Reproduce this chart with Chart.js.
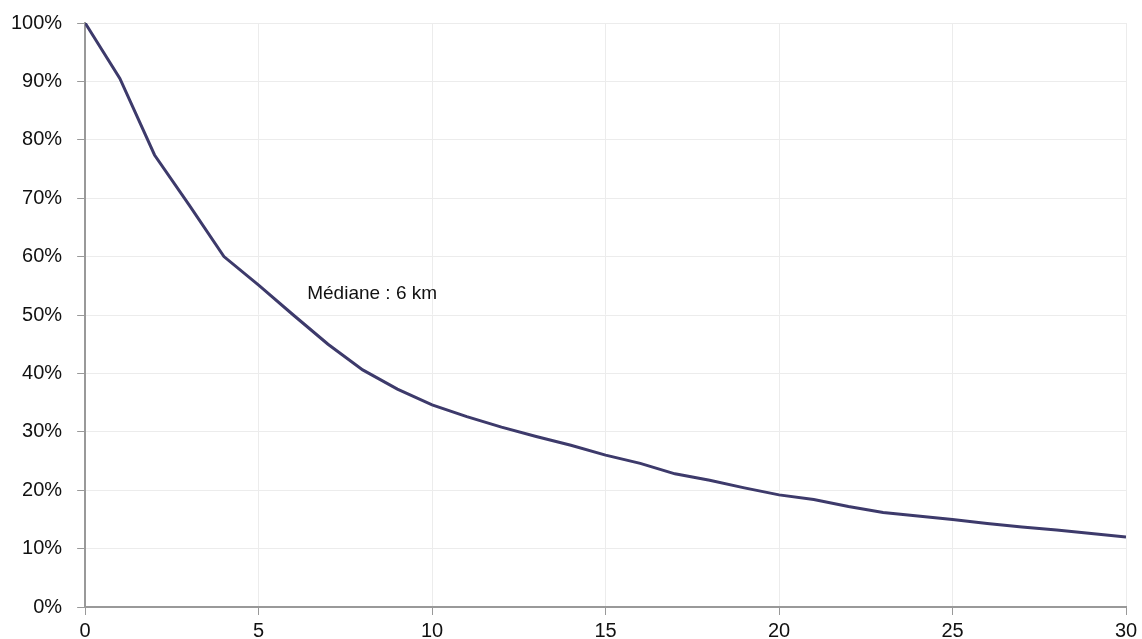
<!DOCTYPE html>
<html>
<head>
<meta charset="utf-8">
<script src="https://cdn.jsdelivr.net/npm/chart.js@4"></script>
<style>
    body { margin: 0; background: #fff; }
    #wrap { width: 1142px; height: 639px; }
</style>
</head>
<body>
<div id="wrap"><canvas id="distChart"></canvas></div>
<script>
// distance (km) and share of trips longer than that distance
const distances = [0, 1, 2, 3, 4, 5, 6, 7, 8, 9, 10, 11, 12, 13, 14, 15, 16, 17, 18, 19, 20, 21, 22, 23, 24, 25, 26, 27, 28, 29, 30];
const shares = [1.00, 0.905, 0.774, 0.688, 0.60, 0.551, 0.50, 0.45, 0.406, 0.373, 0.346, 0.326, 0.308, 0.292, 0.277, 0.260, 0.246, 0.228, 0.217, 0.204, 0.192, 0.184, 0.172, 0.162, 0.156, 0.150, 0.143, 0.137, 0.132, 0.126, 0.120];
const xTicks = [0, 5, 10, 15, 20, 25, 30];
const yTicks = [0, 0.1, 0.2, 0.3, 0.4, 0.5, 0.6, 0.7, 0.8, 0.9, 1.0];
const medianLabel = 'Médiane : 6 km';
const medianPos = { x: 6.4, y: 0.527 };

document.addEventListener('DOMContentLoaded', () => {
    const ctx = document.getElementById('distChart').getContext('2d');

    const medianText = {
        id: 'medianText',
        afterDatasetsDraw(chart) {
            const c = chart.ctx;
            const x = chart.scales.x.getPixelForValue(medianPos.x);
            const y = chart.scales.y.getPixelForValue(medianPos.y);
            c.save();
            c.font = '19px "Liberation Sans", Arial, sans-serif';
            c.fillStyle = '#111';
            c.textAlign = 'left';
            c.textBaseline = 'alphabetic';
            c.fillText(medianLabel, x, y);
            c.restore();
        }
    };

    new Chart(ctx, {
        type: 'line',
        data: {
            datasets: [{
                data: distances.map((d, i) => ({ x: d, y: shares[i] })),
                borderColor: '#3d3a6b',
                borderWidth: 3,
                pointRadius: 0,
                tension: 0,
                fill: false
            }]
        },
        options: {
            responsive: true,
            maintainAspectRatio: false,
            animation: false,
            layout: { padding: { left: 6, top: 23, right: 16, bottom: 0 } },
            plugins: {
                legend: { display: false },
                tooltip: { enabled: false }
            },
            scales: {
                x: {
                    type: 'linear',
                    min: 0,
                    max: 30,
                    afterBuildTicks: (axis) => { axis.ticks = xTicks.map(v => ({ value: v })); },
                    afterFit: (axis) => { axis.height = 32; axis.paddingRight = 0; axis.paddingLeft = 0; },
                    grid: { color: '#ececec', lineWidth: 1, tickColor: '#999', tickLength: 8 },
                    border: { color: '#999', width: 2 },
                    ticks: {
                        color: '#111',
                        padding: 6,
                        maxRotation: 0,
                        font: { family: '"Liberation Sans", Arial, sans-serif', size: 20, lineHeight: 1 }
                    }
                },
                y: {
                    min: 0,
                    max: 1,
                    afterBuildTicks: (axis) => { axis.ticks = yTicks.map(v => ({ value: v })); },
                    afterFit: (axis) => { axis.width -= 10; axis.paddingTop = 0; axis.paddingBottom = 0; },
                    grid: { color: '#ececec', lineWidth: 1, tickColor: '#999', tickLength: 8 },
                    border: { color: '#999', width: 2 },
                    ticks: {
                        color: '#111',
                        padding: 15,
                        callback: (v) => Math.round(v * 100) + '%',
                        font: { family: '"Liberation Sans", Arial, sans-serif', size: 20, lineHeight: 1 }
                    }
                }
            }
        },
        plugins: [medianText]
    });
});
</script>
</body>
</html>
